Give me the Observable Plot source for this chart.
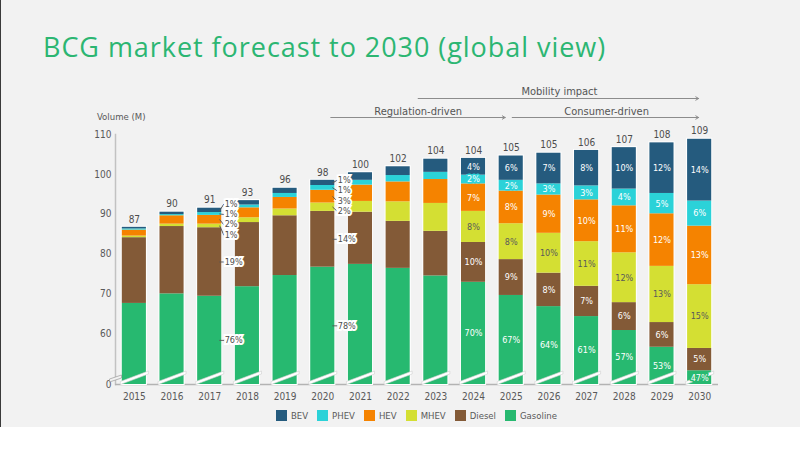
<!DOCTYPE html>
<html>
<head>
<meta charset="utf-8">
<script src="https://cdn.jsdelivr.net/npm/d3@7"></script>
<script src="https://cdn.jsdelivr.net/npm/@observablehq/plot@0.6"></script>
<style>
  html, body { margin: 0; padding: 0; background: #ffffff; }
  #page { position: relative; width: 800px; height: 427px; background: #f2f2f2; overflow: hidden; }
  #edge { position: absolute; left: 0; top: 0; width: 1px; height: 427px; background: #3a3a3a; }
  #title { position: absolute; left: 43px; top: 33px; margin: 0; font-family: "Open Sans", sans-serif; font-weight: 400; font-size: 27px; letter-spacing: 0.95px; line-height: 1; color: #2cb672; white-space: nowrap; }
  #chart { position: absolute; left: 0; top: 80px; }
  #ylabel { position: absolute; left: 97px; top: 112px; font-family: "Liberation Sans Narrow", "DejaVu Sans Condensed", sans-serif; font-size: 9.5px; line-height: 1; color: #595959; }
  #legend { position: absolute; left: 115px; width: 603px; top: 409px; display: flex; justify-content: center; gap: 9px; font-family: "Liberation Sans Narrow", "DejaVu Sans Condensed", sans-serif; font-size: 9.5px; color: #595959; }
  .item { display: flex; align-items: center; height: 12px; }
  .sw { width: 11px; height: 11px; margin-right: 4px; }
</style>
</head>
<body>
<div id="page">
  <div id="edge"></div>
  <div id="title">BCG market forecast to 2030 (global view)</div>
  <div id="ylabel">Volume (M)</div>
  <div id="chart"></div>
  <div id="legend"></div>
</div>
<script>
// ---------- data ----------
const years = [2015, 2016, 2017, 2018, 2019, 2020, 2021, 2022, 2023, 2024, 2025, 2026, 2027, 2028, 2029, 2030];
const totalLabels = [87, 90, 91, 93, 96, 98, 100, 102, 104, 104, 105, 105, 106, 107, 108, 109];

// volumes in millions, bottom-to-top stacking order
const gasoline = [67.6, 70.0, 69.4, 71.8, 74.6, 76.7, 77.4, 76.4, 74.5, 72.9, 69.6, 66.8, 64.3, 60.8, 56.6, 50.7];
const diesel   = [16.5, 16.9, 17.2, 16.1, 15.0, 14.0, 13.1, 11.8, 11.2, 10.0, 9.0, 8.4, 7.6, 7.0, 6.2, 5.6];
const mhev     = [0.4, 0.6, 0.9, 1.2, 1.7, 2.1, 2.7, 4.9, 7.0, 7.8, 9.0, 10.0, 11.2, 12.5, 14.1, 16.0];
const hev      = [1.5, 2.1, 2.2, 2.5, 2.9, 3.2, 4.1, 5.0, 6.0, 6.9, 8.2, 9.6, 10.5, 11.8, 13.2, 14.7];
const phev     = [0.3, 0.3, 0.7, 0.7, 1.0, 1.2, 1.2, 1.6, 1.8, 2.2, 2.7, 2.8, 3.5, 4.2, 5.1, 6.3];
const bev      = [0.4, 0.6, 1.1, 1.1, 1.3, 1.3, 1.9, 2.2, 3.3, 4.2, 6.1, 7.7, 8.9, 10.4, 12.7, 15.5];

// share labels as printed (null = not shown)
const gasolinePct = [null, null, 76, null, null, 78, null, null, null, 70, 67, 64, 61, 57, 53, 47];
const dieselPct   = [null, null, 19, null, null, 14, null, null, null, 10, 9, 8, 7, 6, 6, 5];
const mhevPct     = [null, null, 1, null, null, 2, null, null, null, 8, 8, 10, 11, 12, 13, 15];
const hevPct      = [null, null, 2, null, null, 3, null, null, null, 7, 8, 9, 10, 11, 12, 13];
const phevPct     = [null, null, 1, null, null, 1, null, null, null, 2, 2, 3, 3, 4, 5, 6];
const bevPct      = [null, null, 1, null, null, 1, null, null, null, 4, 6, 7, 8, 10, 12, 14];
const calloutYears = [2017, 2020];

const series = ["Gasoline", "Diesel", "MHEV", "HEV", "PHEV", "BEV"];
const legendOrder = ["BEV", "PHEV", "HEV", "MHEV", "Diesel", "Gasoline"];
const seriesColors = ["#27b970", "#835a37", "#d4df33", "#f58300", "#2bd2d8", "#255b7e"];

const yTicks = [60, 70, 80, 90, 100, 110];
const axisBottom = 47.25;   // value at the broken-axis baseline, labelled "0"
const yMax = 110;

const phases = [
  {label: "Mobility impact", from: "2022", to: "2030", textAt: "2026"},
  {label: "Regulation-driven", from: "2020", to: "2025", textAt: "2022"},
  {label: "Consumer-driven", from: "2025", to: "2030", textAt: "2027"}
];

// ---------- derived rows ----------
const yearKeys = years.map(String);
const valuesBy = {Gasoline: gasoline, Diesel: diesel, MHEV: mhev, HEV: hev, PHEV: phev, BEV: bev};
const pctBy = {Gasoline: gasolinePct, Diesel: dieselPct, MHEV: mhevPct, HEV: hevPct, PHEV: phevPct, BEV: bevPct};

const segs = [];
const totalsRows = [];
yearKeys.forEach((yr, i) => {
  let acc = 0;
  series.forEach(s => {
    const v = valuesBy[s][i];
    const y1 = acc, y2 = acc + v;
    acc = y2;
    const y1c = Math.max(y1, axisBottom);
    segs.push({year: yr, series: s, y1: y1, y1c: y1c, y2: y2, mid: (y1c + y2) / 2, pct: pctBy[s][i], callout: calloutYears.includes(years[i])});
  });
  totalsRows.push({year: yr, top: acc, label: totalLabels[i]});
});

const insideLabels = segs.filter(d => d.pct != null && !d.callout);

// callout labels: big segments at their middle, small ones spread apart
const plotH = 330 - 54 - 26;
const k = plotH / (yMax - axisBottom);  // px per unit
const spacing = 2.55;
const callouts = [];
calloutYears.map(String).forEach(yr => {
  const rows = segs.filter(d => d.year === yr);
  const small = rows.filter(d => ["MHEV", "HEV", "PHEV", "BEV"].includes(d.series));
  const center = d3.mean(small, d => d.mid) - 0.5;
  rows.forEach(d => {
    let ly = d.mid;
    const idx = small.indexOf(d);
    if (idx >= 0) ly = center + (idx - 1.5) * spacing;
    const up = (ly - d.mid) * k, across = 4;
    callouts.push({year: yr, series: d.series, segY: d.mid, labelY: ly, text: d.pct + "%",
      len: Math.hypot(across, up), angle: Math.atan2(across, up) * 180 / Math.PI});
  });
});

// ---------- shapes ----------
const barBreak = {draw(ctx) { ctx.moveTo(-14, 4); ctx.lineTo(14, -6.5); ctx.lineTo(14, -3.5); ctx.lineTo(-14, 7); ctx.closePath(); }};
const axisBreak = {draw(ctx) { ctx.moveTo(-6, 1.5); ctx.lineTo(6, -2.5); ctx.lineTo(6, 0.5); ctx.lineTo(-6, 4.5); ctx.closePath(); }};
const leader = {draw(ctx, l) { ctx.moveTo(0, 0); ctx.lineTo(0, -l); }};

const fontStack = "'Liberation Sans Narrow', 'DejaVu Sans Condensed', sans-serif";
const txt = "#595959";

const chart = Plot.plot({
  width: 800,
  height: 330,
  marginTop: 54,
  marginBottom: 26,
  marginLeft: 115,
  marginRight: 82,
  style: {fontFamily: fontStack, background: "transparent", color: txt, fontSize: "10px"},
  x: {type: "band", domain: yearKeys, paddingInner: 0.36, paddingOuter: 0.18, round: false},
  y: {domain: [axisBottom, yMax]},
  color: {domain: series, range: seriesColors},
  length: {type: "identity"},
  marks: [
    Plot.frame({anchor: "left", stroke: "#c2c2c2", strokeWidth: 1.5}),
    Plot.ruleY([axisBottom], {stroke: "#b3b3b3", strokeWidth: 1.5}),
    Plot.axisY([axisBottom, ...yTicks], {tickSize: 0, tickPadding: 4, fontSize: 10, label: null,
      tickFormat: d => d === axisBottom ? "0" : String(d)}),
    Plot.axisX({tickSize: 0, tickPadding: 8, fontSize: 10, label: null}),
    Plot.barY(totalsRows, {x: "year", y1: axisBottom, y2: "top", fill: "white", inset: -1}),
    Plot.barY(segs, {x: "year", y1: "y1c", y2: "y2", fill: "series"}),
    Plot.dot(yearKeys.map(yr => ({year: yr, y: axisBottom})), {x: "year", y: "y", dy: -7, symbol: barBreak, r: 5, fill: "white", stroke: "#cfcfcf", strokeWidth: 0.6}),
    Plot.dot([axisBottom], {y: d => d, frameAnchor: "left", dy: -7, symbol: axisBreak, r: 3, fill: "#f2f2f2", stroke: "#9a9a9a", strokeWidth: 0.7}),
    Plot.text(totalsRows, {x: "year", y: "top", text: d => String(d.label), dy: -8, fontSize: 10, fill: "#4d4d4d"}),
    Plot.text(insideLabels.filter(d => d.series !== "MHEV"), {x: "year", y: "mid", text: d => d.pct + "%", fontSize: 9, fill: "white", stroke: "series", strokeWidth: 3, paintOrder: "stroke"}),
    Plot.text(insideLabels.filter(d => d.series === "MHEV"), {x: "year", y: "mid", text: d => d.pct + "%", fontSize: 9, fill: "#5a5a5a"}),
    Plot.vector(callouts, {x: "year", y: "segY", dx: 10, length: "len", rotate: "angle", anchor: "start", shape: leader, stroke: "#555", strokeWidth: 0.9}),
    Plot.text(callouts, {x: "year", y: "labelY", text: "text", dx: 15, textAnchor: "start", fontSize: 9, fill: "#4d4d4d", stroke: "white", strokeWidth: 4, strokeLinejoin: "miter", paintOrder: "stroke"}),
    Plot.arrow(phases.slice(0, 1), {x1: "from", x2: "to", y1: yMax, y2: yMax, dy: -36, insetStart: 20, insetEnd: 1, stroke: "#8c8c8c", strokeWidth: 1, headLength: 5}),
    Plot.arrow(phases.slice(1, 2), {x1: "from", x2: "to", y1: yMax, y2: yMax, dy: -17, insetStart: 8, insetEnd: 6, stroke: "#8c8c8c", strokeWidth: 1, headLength: 5}),
    Plot.arrow(phases.slice(2, 3), {x1: "from", x2: "to", y1: yMax, y2: yMax, dy: -17, insetStart: 1, insetEnd: 1, stroke: "#8c8c8c", strokeWidth: 1, headLength: 5}),
    Plot.text(phases.slice(0, 1), {x: "textAt", y: yMax, text: "label", dy: -43, dx: 10.5, fontSize: 11, fill: "#555"}),
    Plot.text(phases.slice(1, 2), {x: "textAt", y: yMax, text: "label", dy: -23, dx: 20, fontSize: 11, fill: "#555"}),
    Plot.text(phases.slice(2, 3), {x: "textAt", y: yMax, text: "label", dy: -23, dx: 20, fontSize: 11, fill: "#555"})
  ]
});
document.getElementById("chart").appendChild(chart);

// legend
const legend = document.getElementById("legend");
legendOrder.forEach(s => {
  const item = document.createElement("div");
  item.className = "item";
  const sw = document.createElement("div");
  sw.className = "sw";
  sw.style.background = seriesColors[series.indexOf(s)];
  const label = document.createElement("span");
  label.textContent = s;
  item.appendChild(sw);
  item.appendChild(label);
  legend.appendChild(item);
});
</script>
</body>
</html>
